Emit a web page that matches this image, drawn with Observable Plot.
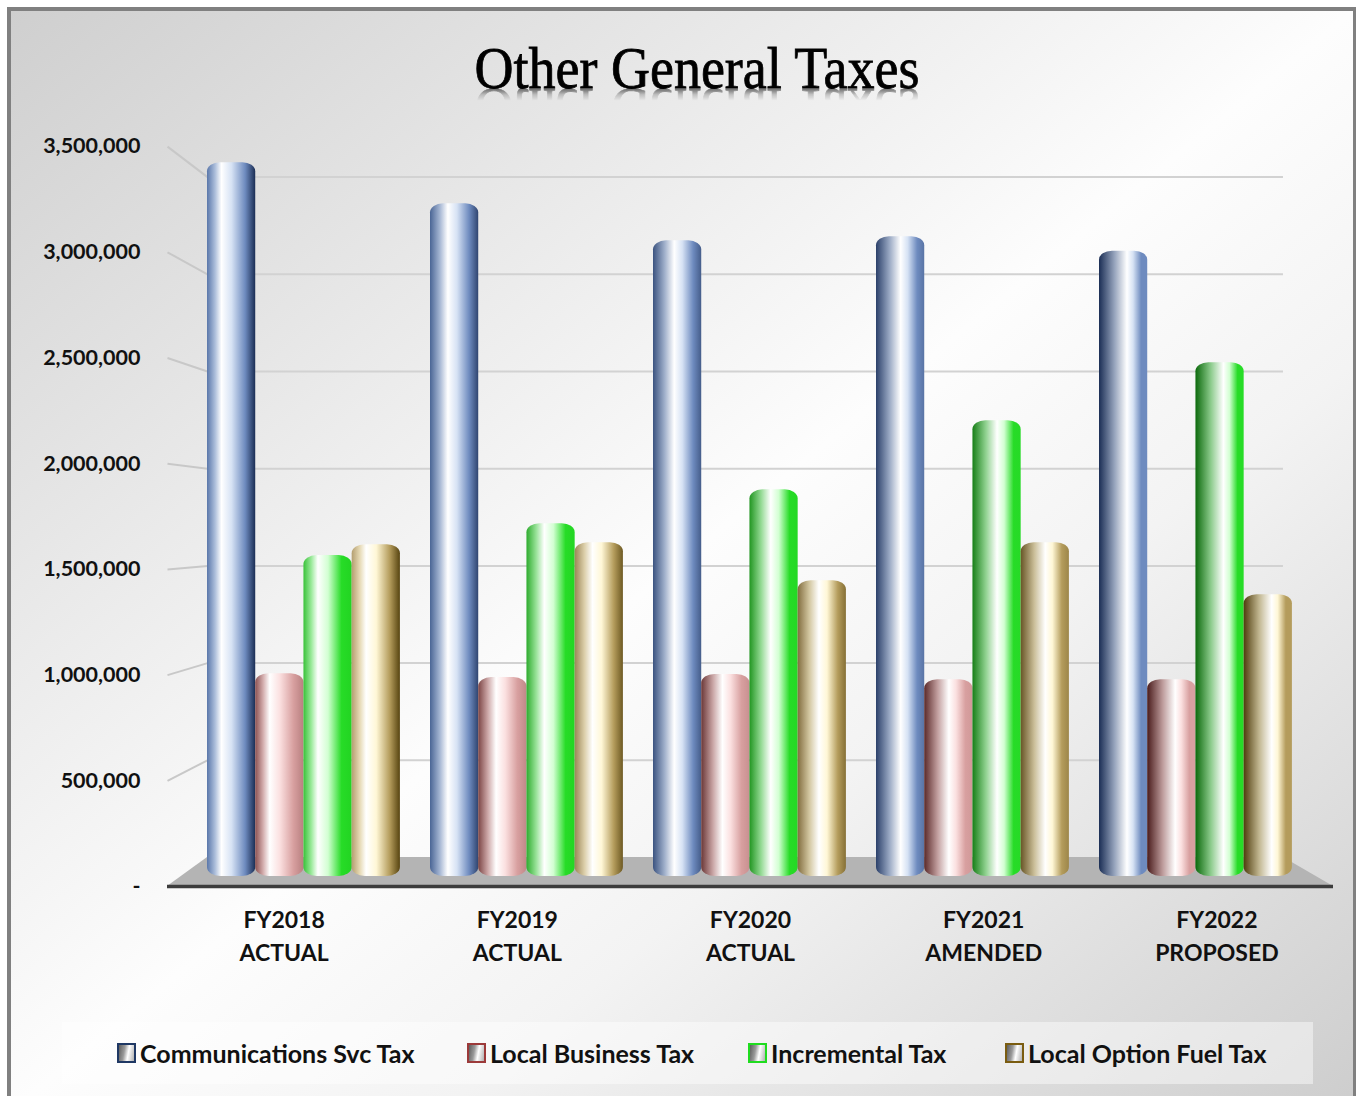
<!DOCTYPE html>
<html><head><meta charset="utf-8">
<script src="https://cdn.jsdelivr.net/npm/d3@7"></script>
<script src="https://cdn.jsdelivr.net/npm/@observablehq/plot@0.6"></script>
<style>
html,body{margin:0;padding:0;background:#fff;overflow:hidden;}
#frame{position:absolute;left:7px;top:7px;width:1342px;height:1100px;border:4px solid #808080;border-bottom:none;
 background:linear-gradient(to bottom right,#cfcfcf 0%,#ebebeb 30%,#fdfdfd 50%,#f3f3f3 66%,#cdcdcd 100%);}
#wrap{position:relative;width:1356px;}
#title{position:relative;height:120px;}
#title span{position:absolute;left:697px;top:38px;transform:translateX(-50%) scaleX(0.9);
 font-family:"Liberation Serif",serif;font-size:60px;line-height:60px;white-space:nowrap;color:#000;
 -webkit-text-stroke:0.8px #000;
 -webkit-box-reflect: below -19px linear-gradient(rgba(0,0,0,0) 64%, rgba(0,0,0,0.18) 74%, rgba(0,0,0,0.55) 84%);}
#chart svg{display:block;}
#legend{position:relative;margin-top:12px;margin-left:62px;width:1251px;height:62px;background:rgba(255,255,255,0.45);}
.item{position:absolute;top:0;height:62px;display:flex;align-items:center;font-family:Lato,sans-serif;font-weight:700;font-size:25px;color:#111;white-space:nowrap;}
.sw{width:15px;height:16px;border:2px solid;margin-right:4px;box-sizing:content-box;
 background:linear-gradient(100deg,#5d5d5d 0%,#9a9a9a 35%,#ffffff 60%,#b0b0b0 100%);}
</style></head>
<body>
<div id="frame"></div>
<div id="wrap">
  <div id="title"><span>Other General Taxes</span></div>
  <div id="chart"></div>
  <div id="legend"></div>
</div>
<script>
// ---- data ----
const years = ["FY2018", "FY2019", "FY2020", "FY2021", "FY2022"];
const stages = ["ACTUAL", "ACTUAL", "ACTUAL", "AMENDED", "PROPOSED"];
const seriesNames = ["Communications Svc Tax", "Local Business Tax", "Incremental Tax", "Local Option Fuel Tax"];
const communicationsSvcTax = [3470000, 3270000, 3090000, 3110000, 3040000];
const localBusinessTax = [986000, 967000, 982000, 957000, 957000];
const incrementalTax = [1560000, 1715000, 1880000, 2216000, 2498000];
const localOptionFuelTax = [1613000, 1623000, 1438000, 1623000, 1370000];
const yTicks = [0, 500000, 1000000, 1500000, 2000000, 2500000, 3000000, 3500000];

// ---- styling ----
const palettes = [
  {dark: "#1b2e55", mid: "#6e8bbf", light: "#d6e2f4", rEdge: "#1b2e55", lEdge: "#5a77aa", border: "#1f3864"},
  {dark: "#4a1c1c", mid: "#d8a0a0", light: "#fbe0e0", rEdge: "#b88080", lEdge: "#8c5252", border: "#9c3a3a"},
  {dark: "#0b690b", mid: "#27dc27", light: "#d2ffd2", rEdge: "#22d422", lEdge: "#39c239", border: "#1fdc1f"},
  {dark: "#4f3c0d", mid: "#b49c5c", light: "#fff7d6", rEdge: "#574410", lEdge: "#b49e70", border: "#7a5c10"}
];

// 3D planes expressed in data units of the bar plane
const BACK = {yk: 0.945, yc: 92362, xk: 0.965, xc: 0};
const FRONT = {yk: 1.02764, yc: -48611, xk: 1.04574, xc: -0.17937};
const projY = (v, p) => v * p.yk + p.yc;
const projX = (u, p) => u * p.xk + p.xc;

const W = 0.865 / 4;
const allSeries = [communicationsSvcTax, localBusinessTax, incrementalTax, localOptionFuelTax];
const rows = [];
allSeries.forEach((vals, s) => vals.forEach((v, g) => rows.push({s, g, year: years[g], series: seriesNames[s], value: v})));

const gridTicks = yTicks.filter(v => v > 0);
const floorPts = [
  {x: projX(0, FRONT), y1: projY(0, FRONT), y2: projY(0, FRONT)},
  {x: projX(0, BACK), y1: projY(0, FRONT), y2: projY(0, BACK)},
  {x: projX(5, BACK), y1: projY(0, FRONT), y2: projY(0, BACK)},
  {x: projX(5, FRONT), y1: projY(0, FRONT), y2: projY(0, FRONT)}
];

const mix = (a, b, t) => d3.interpolateRgb(a, b)(t);
function defsMark() {
  const ns = "http://www.w3.org/2000/svg";
  const defs = document.createElementNS(ns, "defs");
  palettes.forEach((p, s) => {
    years.forEach((y, g) => {
      const k = g / 4;
      const h = 0.3 + 0.28 * k;
      const L = mix(p.lEdge, p.dark, k);
      const R = mix(p.rEdge, p.mid, k);
      const grad = document.createElementNS(ns, "linearGradient");
      grad.setAttribute("id", `g-${s}-${g}`);
      grad.setAttribute("x1", "0"); grad.setAttribute("x2", "1");
      grad.setAttribute("y1", "0"); grad.setAttribute("y2", "0");
      const stops = [
        [0, L], [h * 0.55, mix(L, p.light, 0.65)], [h, "#ffffff"],
        [h + (1 - h) * 0.3, p.light], [h + (1 - h) * 0.7, p.mid], [1, R]
      ];
      stops.forEach(([o, c]) => {
        const st = document.createElementNS(ns, "stop");
        st.setAttribute("offset", o);
        st.setAttribute("stop-color", c);
        grad.appendChild(st);
      });
      defs.appendChild(grad);
    });
  });
  return defs;
}

const font = {fontFamily: "Lato, sans-serif", fontWeight: 700, fill: "#111"};

const chart = Plot.plot({
  width: 1356,
  height: 890,
  margin: 0,
  style: {background: "transparent", overflow: "visible"},
  x: {domain: [0, 5], range: [207, 1322], axis: null},
  y: {domain: [0, 3500000], range: [756, 36], axis: null},
  color: {type: "identity"},
  marks: [
    defsMark,
    Plot.link(gridTicks, {
      x1: () => projX(0, FRONT), y1: v => projY(v, FRONT),
      x2: () => projX(0, BACK), y2: v => projY(v, BACK),
      stroke: "#c8c8c8", strokeWidth: 2
    }),
    Plot.ruleY(gridTicks, {
      y: v => projY(v, BACK), x1: () => projX(0, BACK), x2: () => projX(5, BACK),
      stroke: "#d2d2d2", strokeWidth: 2
    }),
    Plot.areaY(floorPts, {x: "x", y1: "y1", y2: "y2", fill: "#b4b4b4", curve: "linear"}),
    Plot.ruleY([0], {
      y: v => projY(v, FRONT), x1: () => projX(0, FRONT), x2: () => projX(5, FRONT),
      stroke: "#3c3c3c", strokeWidth: 3.5
    }),
    Plot.rectY(rows, {
      x1: d => d.g + d.s * W, x2: d => d.g + (d.s + 1) * W,
      y1: 0, y2: "value",
      fill: d => `url(#g-${d.s}-${d.g})`,
      rx: 13, ry: 9
    }),
    Plot.text(yTicks, {
      x: () => projX(0, FRONT), y: v => projY(v, FRONT),
      text: v => v === 0 ? "-" : d3.format(",")(v),
      textAnchor: "end", dx: -27, fontSize: 21.5, ...font
    }),
    Plot.text(years, {
      x: (d, i) => projX(i + 0.5, FRONT), y: () => projY(0, FRONT),
      text: d => d, dy: 34, fontSize: 23, ...font
    }),
    Plot.text(stages, {
      x: (d, i) => projX(i + 0.5, FRONT), y: () => projY(0, FRONT),
      text: d => d, dy: 67, fontSize: 23, ...font
    })
  ]
});
document.getElementById("chart").appendChild(chart);

// legend
const legendLeft = [55, 405, 686, 943];
const legend = document.getElementById("legend");
seriesNames.forEach((name, i) => {
  const item = document.createElement("div");
  item.className = "item";
  item.style.left = legendLeft[i] + "px";
  const sw = document.createElement("span");
  sw.className = "sw";
  sw.style.borderColor = palettes[i].border;
  const t = document.createElement("span");
  t.textContent = name;
  item.appendChild(sw);
  item.appendChild(t);
  legend.appendChild(item);
});
</script>
</body></html>
